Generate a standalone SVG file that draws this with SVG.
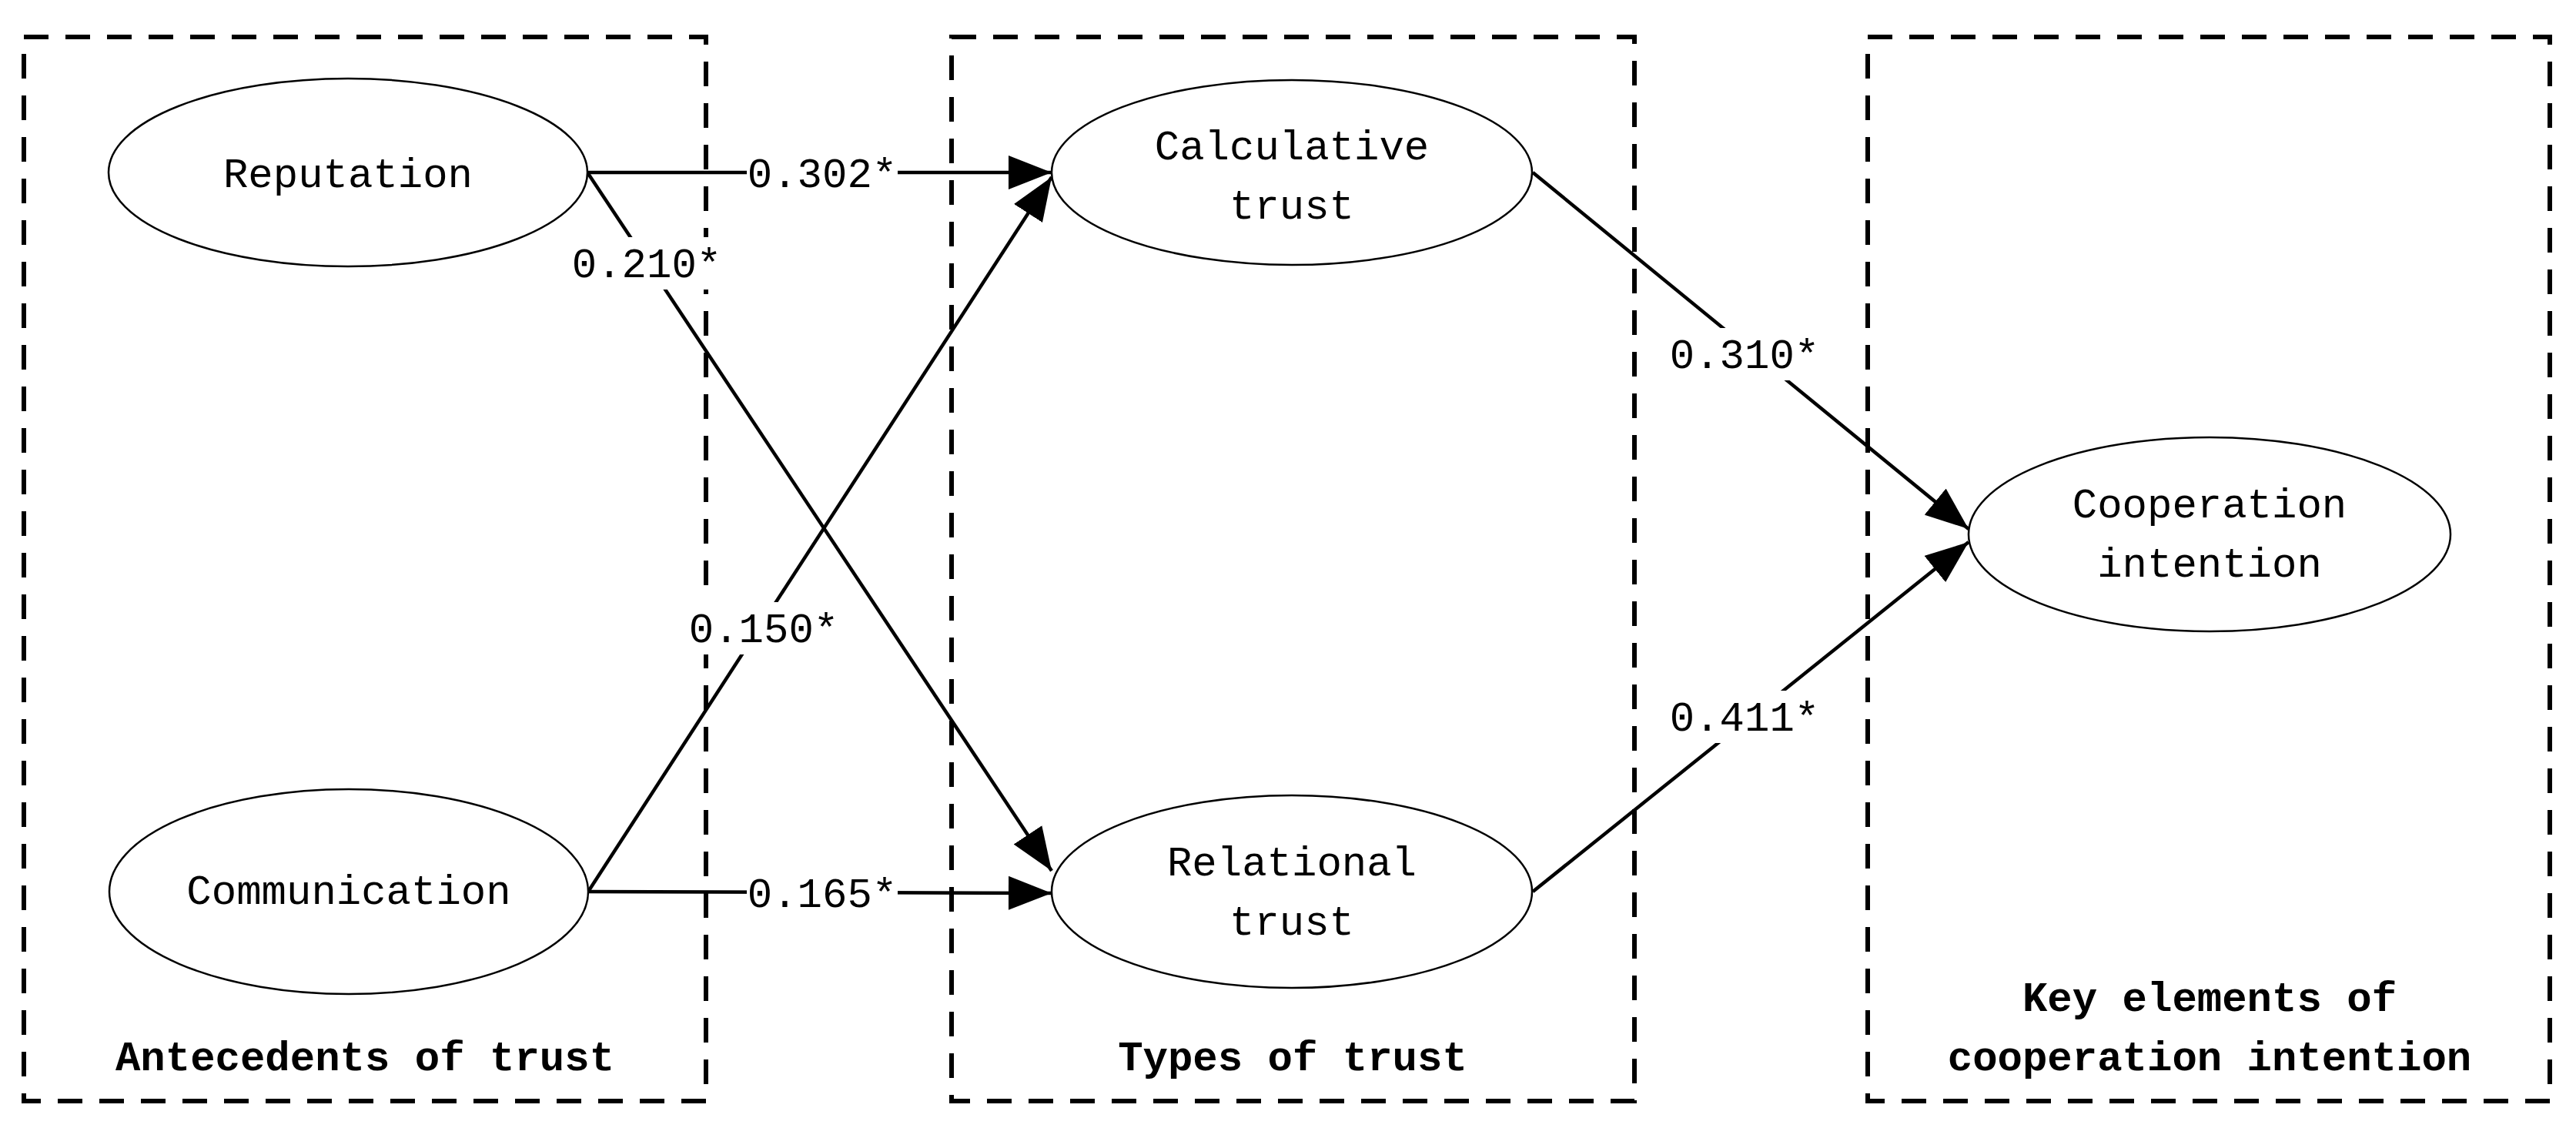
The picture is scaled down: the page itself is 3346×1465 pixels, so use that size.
<svg xmlns="http://www.w3.org/2000/svg" width="3346" height="1465" viewBox="0 0 3346 1465">
<style>
.box{fill:none;stroke:#000;stroke-width:6;stroke-dasharray:32 22}
.node ellipse{fill:#fff;stroke:#000;stroke-width:2.5}
.t{font-family:"Liberation Mono",monospace;font-size:54px;text-anchor:middle;fill:#000}
.b{font-weight:bold;font-size:54px}
.e{stroke:#000;stroke-width:4.5;fill:none;marker-end:url(#ah)}
.lbl{fill:#fff}
</style>
<defs>
<marker id="ah" markerUnits="userSpaceOnUse" markerWidth="56" markerHeight="44" refX="56" refY="22" orient="auto">
<path d="M0,0 L56,22 L0,44 z" fill="#000"/>
</marker>
</defs>
<rect width="3346" height="1465" fill="#fff"/>
<g id="groups">
<rect class="box" x="31" y="48" width="886" height="1382"/>
<rect class="box" x="1236" y="48" width="887" height="1382"/>
<rect class="box" x="2426" y="48" width="886" height="1382"/>
<text class="t b" x="474" y="1390">Antecedents of trust</text>
<text class="t b" x="1679" y="1390">Types of trust</text>
<text class="t b" x="2870" y="1313">Key elements of</text>
<text class="t b" x="2870" y="1390">cooperation intention</text>
</g>
<g id="connectors">
<line class="e" x1="763" y1="224" x2="1366" y2="224"/>
<line class="e" x1="763" y1="224" x2="1366" y2="1131"/>
<line class="e" x1="764" y1="1158" x2="1366" y2="230"/>
<line class="e" x1="764" y1="1158" x2="1366" y2="1160"/>
<line class="e" x1="1991" y1="224" x2="2557" y2="687"/>
<line class="e" x1="1991" y1="1158" x2="2557" y2="704"/>
<rect class="lbl" x="970" y="195" width="196" height="58"/>
<text class="t" x="1068" y="243">0.302*</text>
<rect class="lbl" x="745" y="308" width="190" height="68"/>
<text class="t" x="840" y="360">0.210*</text>
<rect class="lbl" x="894" y="782" width="196" height="68"/>
<text class="t" x="992" y="834">0.150*</text>
<rect class="lbl" x="970" y="1130" width="196" height="58"/>
<text class="t" x="1068" y="1178">0.165*</text>
<rect class="lbl" x="2168" y="426" width="196" height="68"/>
<text class="t" x="2266" y="478">0.310*</text>
<rect class="lbl" x="2168" y="897" width="196" height="68"/>
<text class="t" x="2266" y="949">0.411*</text>
</g>
<g id="reputation" class="node"><ellipse cx="452" cy="224" rx="311" ry="122"/><text class="t" x="452" y="243">Reputation</text></g>
<g id="communication" class="node"><ellipse cx="453" cy="1158" rx="311" ry="133"/><text class="t" x="453" y="1174">Communication</text></g>
<g id="calculative" class="node"><ellipse cx="1678" cy="224" rx="312" ry="120"/><text class="t" x="1678" y="207">Calculative</text><text class="t" x="1678" y="284">trust</text></g>
<g id="relational" class="node"><ellipse cx="1678" cy="1158" rx="312" ry="125"/><text class="t" x="1678" y="1137">Relational</text><text class="t" x="1678" y="1214">trust</text></g>
<g id="cooperation" class="node"><ellipse cx="2870" cy="694" rx="313" ry="126"/><text class="t" x="2870" y="672">Cooperation</text><text class="t" x="2870" y="749">intention</text></g>
</svg>
